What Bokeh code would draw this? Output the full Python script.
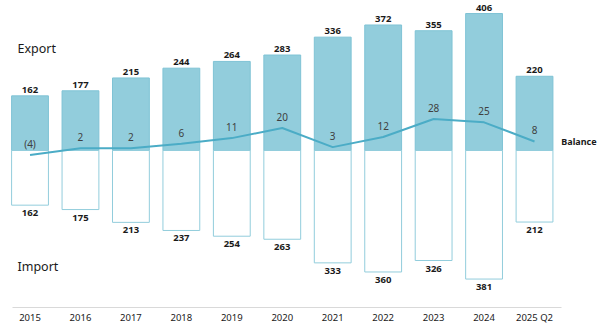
from bokeh.plotting import figure
from bokeh.models import ColumnDataSource, Range1d, LinearAxis, FixedTicker, Label
from bokeh.core.properties import value
from bokeh.embed import file_html
from bokeh.resources import INLINE

years = ["2015", "2016", "2017", "2018", "2019", "2020", "2021", "2022", "2023", "2024", "2025 Q2"]
exports = [162, 177, 215, 244, 264, 283, 336, 372, 355, 406, 220]
imports = [162, 175, 213, 237, 254, 263, 333, 360, 326, 381, 212]
balance = [-4, 2, 2, 6, 11, 20, 3, 12, 28, 25, 8]

FONT = "Noto Sans"
n = len(years)
xs = list(range(n))

src = ColumnDataSource(dict(
    x=xs,
    exp=exports,
    imp_neg=[-v for v in imports],
    exp_lbl=[str(v) for v in exports],
    imp_lbl=[str(v) for v in imports],
    bal=balance,
    bal_lbl=[f"({abs(b)})" if b < 0 else str(b) for b in balance],
))

p = figure(width=599, height=326, output_backend="svg", toolbar_location=None,
           x_range=Range1d(-0.585, 11.288), y_range=Range1d(-465.3, 444.6),
           min_border_left=0, min_border_right=0, min_border_top=0, min_border_bottom=19,
           x_axis_location=None, y_axis_location=None)
p.extra_y_ranges = {"bal": Range1d(-139.3, 133.1)}
p.outline_line_color = None
p.grid.visible = False
p.background_fill_color = "white"
p.border_fill_color = "white"

W = 0.73
p.vbar(x="x", top="exp", bottom=0, width=W, source=src,
       fill_color="#92CDDC", line_color="#7FC3D5", line_width=1)
p.vbar(x="x", top=0, bottom="imp_neg", width=W, source=src,
       fill_color="white", line_color="#92CDDC", line_width=1)

p.line(x="x", y="bal", source=src, y_range_name="bal", line_color="#4BACC6", line_width=2)

p.text(x="x", y="exp", text="exp_lbl", source=src, text_align="center", text_baseline="middle",
       y_offset=-6, text_font=value(FONT), text_font_size="9.5px", text_font_style="bold",
       text_color="#1a1a1a")
p.text(x="x", y="imp_neg", text="imp_lbl", source=src, text_align="center", text_baseline="middle",
       y_offset=8, text_font=value(FONT), text_font_size="9.5px", text_font_style="bold",
       text_color="#1a1a1a")
p.text(x="x", y="bal", text="bal_lbl", source=src, y_range_name="bal", text_align="center",
       text_baseline="middle", y_offset=-11, text_font=value(FONT), text_font_size="10px",
       text_color="#404040")

xaxis = LinearAxis(ticker=FixedTicker(ticks=xs),
                   major_label_overrides={i: y for i, y in enumerate(years)})
xaxis.bounds = (-0.35, n - 1 + 0.53)
xaxis.axis_line_color = "#d9d9d9"
xaxis.major_tick_line_color = None
xaxis.minor_tick_line_color = None
xaxis.major_tick_in = 0
xaxis.major_tick_out = 0
xaxis.minor_tick_in = 0
xaxis.minor_tick_out = 0
xaxis.axis_label_standoff = 0
xaxis.major_label_standoff = 3
xaxis.major_label_text_font = FONT
xaxis.major_label_text_font_size = "9.5px"
xaxis.major_label_text_color = "#1a1a1a"
p.add_layout(xaxis, "below")

p.add_layout(Label(x=17, y=259, x_units="screen", y_units="screen", text="Export",
                   text_font=FONT, text_font_size="12.5px", text_color="#1a1a1a",
                   text_baseline="middle"))
p.add_layout(Label(x=17, y=41, x_units="screen", y_units="screen", text="Import",
                   text_font=FONT, text_font_size="12.5px", text_color="#1a1a1a",
                   text_baseline="middle"))
p.add_layout(Label(x=n - 1 + 0.53, y=balance[-1], y_range_name="bal", x_offset=0, text="Balance",
                   text_font=FONT, text_font_size="9px", text_font_style="bold",
                   text_color="#1a1a1a", text_baseline="middle"))

open("out.html", "w").write(file_html(p, INLINE))
